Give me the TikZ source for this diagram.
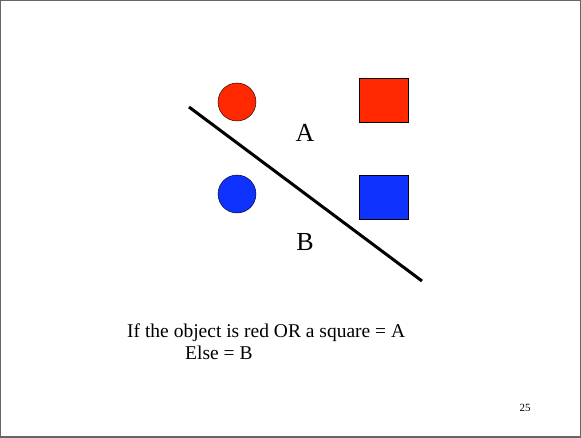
\documentclass[tikz,border=0pt]{standalone}
\usepackage{fontspec}
\setmainfont{Liberation Serif}
\usetikzlibrary{positioning,calc}
\definecolor{objred}{RGB}{255,40,0}
\definecolor{objblue}{RGB}{15,50,255}

\begin{document}
\begin{tikzpicture}[x=1pt,y=-1pt]
  \useasboundingbox (0,0) rectangle (581,437);
  \draw[gray!80!black,line width=1.5pt] (0,0) rectangle (581,437);
  % the four objects
  \draw[fill=objred] (237,102) circle (19);
  \draw[fill=objblue] (237,194) circle (19);
  \draw[fill=objred] (359,78) rectangle (408,122);
  \draw[fill=objblue] (359,175) rectangle (408,219);
  % dividing line
  \coordinate (lineA) at (189,107);
  \coordinate (lineB) at (422,281);
  \draw[line width=3pt] (lineA) -- (lineB);
  \node[font=\fontsize{26}{26}\selectfont] (classA) at (305,133) {A};
  \node[font=\fontsize{26}{26}\selectfont] (classB) at (305,242) {B};
  % rule
  \node[font=\fontsize{19.5}{19.5}\selectfont,anchor=base west,inner sep=0pt] (rule) at (127,337) {If the object is red OR a square = A};
  \node[font=\fontsize{19.5}{19.5}\selectfont,anchor=base west,inner sep=0pt] (elsecase) at (185,359) {Else = B};
  \node[font=\fontsize{11}{11}\selectfont] (page) at (525,408) {25};
\end{tikzpicture}
\end{document}
